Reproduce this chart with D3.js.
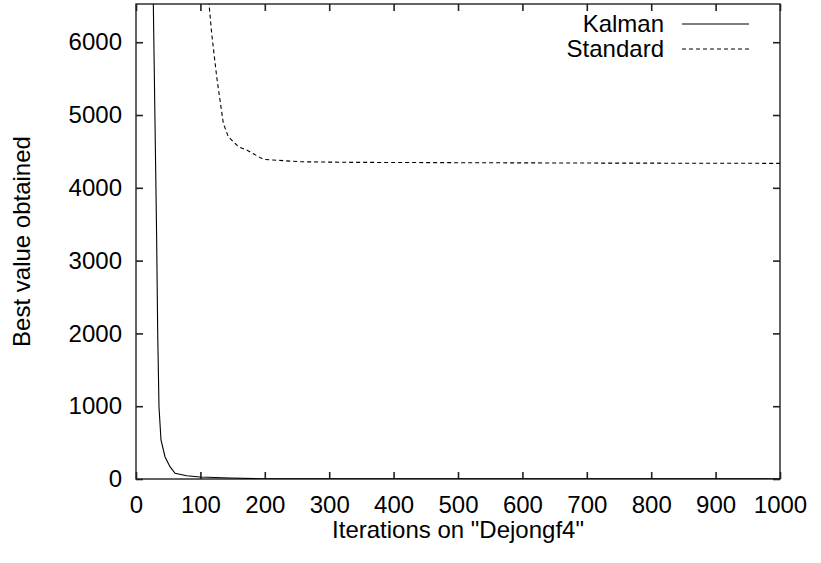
<!DOCTYPE html>
<html>
<head>
<meta charset="utf-8">
<script src="https://cdn.jsdelivr.net/npm/d3@7"></script>
<style>
  html, body { margin: 0; padding: 0; background: #fff; }
  svg { display: block; }
  text { font-family: "Liberation Sans", Arial, Helvetica, sans-serif; fill: #000; }
</style>
</head>
<body>
<script>
// ---- data ----
const kalmanIter = [26, 26.9, 32.1, 33.7, 35.7, 38.8, 45.0, 52.8, 60.6, 78.7, 99.4, 146, 192, 300, 1000];
const kalmanVal  = [7060, 6525, 3283, 2005, 993, 536, 306, 169, 78, 45, 27, 14, 4, 2, 1];

const standardIter = [108, 113.4, 117.5, 125.3, 130.4, 135.6, 143.3, 158.9, 172, 197.7, 213, 255, 332, 500, 700, 1000];
const standardVal  = [7050, 6525, 6122, 5526, 5206, 4886, 4702, 4565, 4519, 4391, 4382, 4358, 4350, 4345, 4340, 4336];

const xTicks = [0, 100, 200, 300, 400, 500, 600, 700, 800, 900, 1000];
const yTicks = [0, 1000, 2000, 3000, 4000, 5000, 6000];
const seriesNames = ["Kalman", "Standard"];
const xTitle = 'Iterations on "Dejongf4"';
const yTitle = "Best value obtained";

// ---- layout ----
const W = 821, H = 563;
const pL = 136, pR = 780, pT = 4, pB = 479;
const fs = 24;

const svg = d3.select("body").append("svg").attr("width", W).attr("height", H);

const x = d3.scaleLinear().domain([0, 1000]).range([pL, pR]);
const y = d3.scaleLinear().domain([0, 6525]).range([pB, pT]);

svg.append("defs").append("clipPath").attr("id", "clip")
  .append("rect").attr("x", pL).attr("y", pT).attr("width", pR - pL).attr("height", pB - pT);

const tickLen = 7;
const axisColor = "#222";

// axes (ticks inward, mirrored)
const gx = svg.append("g").attr("transform", `translate(0,${pB})`)
  .call(d3.axisBottom(x).tickValues(xTicks).tickSize(-tickLen).tickPadding(17).tickFormat(d3.format("d")));
const gxt = svg.append("g").attr("transform", `translate(0,${pT})`)
  .call(d3.axisTop(x).tickValues(xTicks).tickSize(-tickLen).tickFormat(""));
const gy = svg.append("g").attr("transform", `translate(${pL},0)`)
  .call(d3.axisLeft(y).tickValues(yTicks).tickSize(-tickLen).tickPadding(14).tickFormat(d3.format("d")));
const gyr = svg.append("g").attr("transform", `translate(${pR},0)`)
  .call(d3.axisRight(y).tickValues(yTicks).tickSize(-tickLen).tickFormat(""));

[gx, gxt, gy, gyr].forEach(g => {
  g.select(".domain").remove();
  g.selectAll(".tick line").attr("stroke", axisColor).attr("stroke-width", 1.6);
  g.selectAll(".tick text").attr("font-size", fs).attr("font-family", '"Liberation Sans", Arial, sans-serif').attr("fill", "#000");
});

// frame
svg.append("rect").attr("x", pL).attr("y", pT).attr("width", pR - pL).attr("height", pB - pT)
  .attr("fill", "none").attr("stroke", axisColor).attr("stroke-width", 1.4);

// lines
const line = d3.line().x(d => x(d[0])).y(d => y(d[1]));
const kalman = kalmanIter.map((v, i) => [v, kalmanVal[i]]);
const standard = standardIter.map((v, i) => [v, standardVal[i]]);

const plot = svg.append("g").attr("clip-path", "url(#clip)");
plot.append("path").datum(kalman).attr("d", line)
  .attr("fill", "none").attr("stroke", "#000").attr("stroke-width", 1.1);
plot.append("path").datum(standard).attr("d", line)
  .attr("fill", "none").attr("stroke", "#000").attr("stroke-width", 1.1).attr("stroke-dasharray", "4,3");

// legend
const legX2 = 664, lineX1 = 682, lineX2 = 749;
const legY = [24, 49];
seriesNames.forEach((name, i) => {
  svg.append("text").attr("x", legX2).attr("y", legY[i]).attr("dy", "0.35em")
    .attr("text-anchor", "end").attr("font-size", fs).text(name);
  svg.append("line").attr("x1", lineX1).attr("x2", lineX2).attr("y1", legY[i]).attr("y2", legY[i])
    .attr("stroke", "#000").attr("stroke-width", 1.1)
    .attr("stroke-dasharray", i === 1 ? "4,3" : null);
});

// titles
svg.append("text").attr("x", (pL + pR) / 2).attr("y", 538)
  .attr("text-anchor", "middle").attr("font-size", fs).text(xTitle);
svg.append("text").attr("transform", `translate(30,${(pT + pB) / 2}) rotate(-90)`)
  .attr("text-anchor", "middle").attr("font-size", fs).text(yTitle);
</script>
</body>
</html>
